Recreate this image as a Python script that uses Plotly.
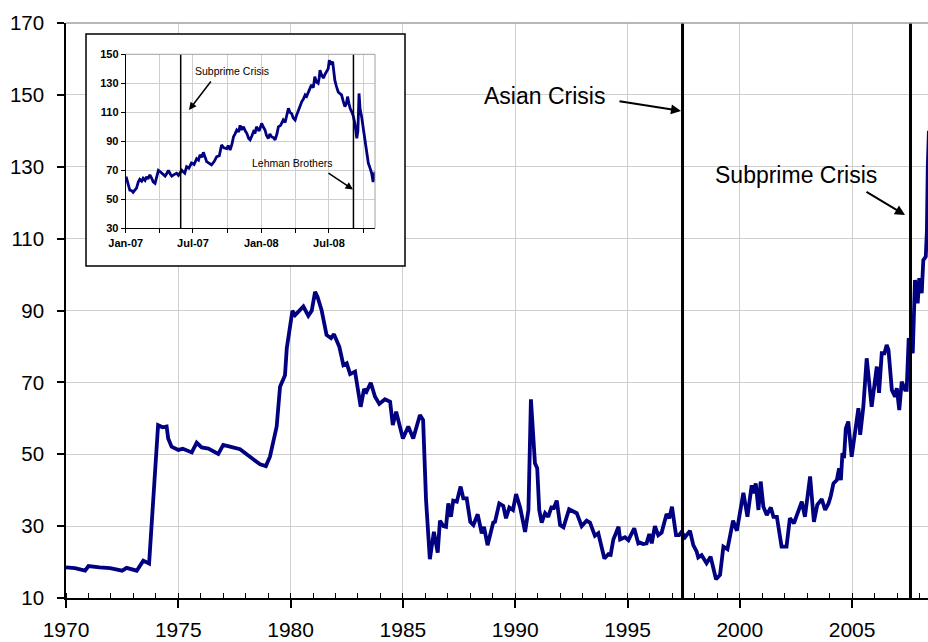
import plotly.graph_objects as go

# ---------------- data ----------------
main_years = [
    1970.00, 1970.40, 1970.85, 1971.00, 1971.50, 1971.96, 1972.50, 1972.70, 1973.15, 1973.44,
    1973.70, 1973.80, 1973.96, 1974.10, 1974.30, 1974.48, 1974.55, 1974.70, 1975.00, 1975.20,
    1975.60, 1975.82, 1976.04, 1976.34, 1976.78, 1977.00, 1977.30, 1977.75, 1978.19, 1978.64,
    1978.90, 1979.08, 1979.38, 1979.53, 1979.75, 1979.83, 1980.08, 1980.20, 1980.57, 1980.79,
    1980.94, 1981.09, 1981.20, 1981.38, 1981.60, 1981.80, 1981.93, 1982.17, 1982.35, 1982.50,
    1982.65, 1982.87, 1983.12, 1983.27, 1983.38, 1983.57, 1983.76, 1983.95, 1984.20, 1984.43,
    1984.55, 1984.70, 1985.00, 1985.24, 1985.46, 1985.76, 1985.90, 1986.03, 1986.20, 1986.38,
    1986.55, 1986.65, 1986.80, 1986.92, 1987.02, 1987.14, 1987.24, 1987.40, 1987.57, 1987.69,
    1987.84, 1988.00, 1988.14, 1988.33, 1988.51, 1988.61, 1988.77, 1989.02, 1989.10, 1989.29,
    1989.47, 1989.59, 1989.74, 1989.90, 1990.04, 1990.22, 1990.44, 1990.59, 1990.70, 1990.80,
    1990.88, 1990.98, 1991.07, 1991.18, 1991.33, 1991.47, 1991.63, 1991.70, 1991.85, 1992.00,
    1992.15, 1992.40, 1992.59, 1992.74, 1992.96, 1993.18, 1993.33, 1993.55, 1993.70, 1993.97,
    1994.15, 1994.25, 1994.37, 1994.60, 1994.67, 1994.89, 1995.04, 1995.30, 1995.48, 1995.55,
    1995.70, 1995.85, 1995.97, 1996.08, 1996.22, 1996.37, 1996.52, 1996.74, 1996.86, 1996.98,
    1997.16, 1997.30, 1997.41, 1997.56, 1997.78, 1997.93, 1998.08, 1998.15, 1998.30, 1998.52,
    1998.70, 1998.82, 1998.94, 1999.12, 1999.27, 1999.45, 1999.57, 1999.70, 1999.87, 1999.98,
    2000.16, 2000.34, 2000.53, 2000.60, 2000.71, 2000.83, 2000.93, 2001.05, 2001.20, 2001.38,
    2001.50, 2001.65, 2001.86, 2002.08, 2002.23, 2002.41, 2002.56, 2002.76, 2002.90, 2003.13,
    2003.30, 2003.45, 2003.65, 2003.80, 2003.95, 2004.05, 2004.17, 2004.32, 2004.42, 2004.50,
    2004.57, 2004.64, 2004.72, 2004.83, 2004.98, 2005.13, 2005.28, 2005.36, 2005.50, 2005.65,
    2005.77, 2005.87, 2006.10, 2006.20, 2006.32, 2006.44, 2006.54, 2006.62, 2006.77, 2006.91,
    2006.99, 2007.10, 2007.21, 2007.36, 2007.43, 2007.52, 2007.70, 2007.80, 2007.92, 2007.99,
    2008.10, 2008.17, 2008.28, 2008.33, 2008.37, 2008.42,
]
main_prices = [
    18.5, 18.3, 17.6, 18.9, 18.5, 18.3, 17.6, 18.4, 17.6, 20.4,
    19.6, 29.8, 41.9, 58.1, 57.5, 57.7, 54.4, 52.1, 51.2, 51.5,
    50.5, 53.2, 51.9, 51.6, 50.1, 52.6, 52.1, 51.4, 49.3, 47.2,
    46.7, 49.3, 57.7, 68.8, 72.0, 79.5, 89.9, 88.7, 91.1, 88.5,
    89.9, 95.2, 93.8, 90.1, 83.2, 82.3, 83.4, 79.9, 74.8, 75.3,
    72.3, 73.0, 63.2, 68.1, 67.4, 69.9, 66.0, 64.0, 65.3, 64.6,
    58.1, 61.8, 54.4, 57.7, 54.4, 60.9, 59.5, 37.3, 20.8, 28.4,
    22.6, 31.5, 30.0, 29.8, 36.3, 32.6, 37.1, 36.8, 41.0, 37.7,
    37.7, 31.2, 30.3, 33.3, 28.0, 29.8, 24.7, 31.0, 31.2, 36.3,
    35.6, 32.2, 35.2, 34.5, 38.9, 35.2, 28.4, 34.5, 65.3, 57.2,
    47.5, 46.1, 34.5, 31.0, 33.6, 32.6, 35.6, 34.7, 37.1, 30.3,
    29.7, 34.7, 34.0, 33.6, 30.0, 31.5, 31.0, 27.3, 28.0, 21.0,
    22.2, 22.0, 26.3, 29.8, 26.3, 26.9, 26.1, 29.4, 25.2, 25.4,
    25.0, 25.2, 27.8, 25.2, 30.0, 27.5, 28.2, 33.4, 32.2, 35.4,
    27.5, 27.5, 28.4, 26.9, 28.7, 24.7, 22.9, 21.3, 21.9, 19.7,
    21.5, 17.8, 15.2, 16.4, 24.3, 23.6, 26.9, 31.5, 28.7, 32.7,
    39.3, 32.6, 41.4, 39.1, 41.9, 34.5, 42.4, 35.4, 33.1, 35.2,
    32.6, 32.6, 24.3, 24.3, 32.2, 30.8, 33.1, 36.8, 32.6, 43.8,
    31.2, 35.9, 37.5, 34.5, 36.3, 38.4, 41.9, 42.8, 46.1, 42.8,
    50.3, 48.9, 57.2, 59.1, 49.3, 56.7, 62.8, 55.4, 63.2, 76.7,
    69.7, 63.2, 74.4, 67.1, 78.1, 78.1, 80.4, 79.0, 67.9, 66.0,
    68.4, 62.3, 70.2, 67.9, 67.9, 82.3, 78.1, 98.5, 92.0, 99.0,
    94.8, 104.0, 105.0, 112.0, 130.0, 140.0,
]

inset_dates = [
    "2007-01-02", "2007-01-05", "2007-01-08", "2007-01-12", "2007-01-17", "2007-01-21",
    "2007-01-26", "2007-01-30", "2007-02-04", "2007-02-08", "2007-02-13", "2007-02-17",
    "2007-02-22", "2007-02-26", "2007-03-02", "2007-03-07", "2007-03-12", "2007-03-16",
    "2007-03-21", "2007-03-26", "2007-03-30", "2007-04-04", "2007-04-08", "2007-04-13",
    "2007-04-17", "2007-04-22", "2007-04-26", "2007-05-01", "2007-05-05", "2007-05-11",
    "2007-05-18", "2007-05-23", "2007-05-27", "2007-06-01", "2007-06-05", "2007-06-09",
    "2007-06-14", "2007-06-20", "2007-06-27", "2007-07-04", "2007-07-11", "2007-07-16",
    "2007-07-20", "2007-07-25", "2007-07-29", "2007-08-03", "2007-08-07", "2007-08-13",
    "2007-08-20", "2007-08-27", "2007-09-03", "2007-09-10", "2007-09-16", "2007-09-22",
    "2007-09-30", "2007-10-04", "2007-10-09", "2007-10-14", "2007-10-18", "2007-10-22",
    "2007-10-27", "2007-11-01", "2007-11-05", "2007-11-09", "2007-11-14", "2007-11-19",
    "2007-11-23", "2007-11-28", "2007-12-02", "2007-12-07", "2007-12-11", "2007-12-15",
    "2007-12-19", "2007-12-26", "2008-01-02", "2008-01-06", "2008-01-11", "2008-01-15",
    "2008-01-20", "2008-01-24", "2008-01-29", "2008-02-03", "2008-02-07", "2008-02-12",
    "2008-02-16", "2008-02-22", "2008-02-29", "2008-03-05", "2008-03-10", "2008-03-14",
    "2008-03-18", "2008-03-23", "2008-03-27", "2008-04-01", "2008-04-05", "2008-04-10",
    "2008-04-14", "2008-04-19", "2008-04-23", "2008-04-28", "2008-05-02", "2008-05-07",
    "2008-05-11", "2008-05-15", "2008-05-20", "2008-05-24", "2008-05-28", "2008-06-02",
    "2008-06-05", "2008-06-07", "2008-06-11", "2008-06-16", "2008-06-20", "2008-06-25",
    "2008-06-29", "2008-07-02", "2008-07-06", "2008-07-11", "2008-07-14", "2008-07-17",
    "2008-07-21", "2008-07-26", "2008-07-30", "2008-08-04", "2008-08-08", "2008-08-13",
    "2008-08-17", "2008-08-20", "2008-08-24", "2008-08-27", "2008-09-01", "2008-09-05",
    "2008-09-09", "2008-09-14", "2008-09-17", "2008-09-20", "2008-09-23", "2008-09-27",
    "2008-10-02", "2008-10-06", "2008-10-10", "2008-10-15", "2008-10-19", "2008-10-24",
    "2008-10-28", "2008-11-02",
]
inset_prices = [
    65.6, 62.5, 61.0, 56.4, 56.0, 54.8,
    56.5, 57.6, 62.0, 63.8, 62.5, 64.5,
    63.0, 65.6, 64.0, 66.8, 64.5, 62.0,
    61.0, 66.0, 70.0, 69.0, 68.0, 67.0,
    66.0, 68.0, 70.0, 67.5, 66.0, 67.0,
    68.0, 66.5, 68.0, 70.0, 69.0, 68.0,
    72.5, 71.5, 75.0, 74.0, 78.0, 77.0,
    80.6, 79.0, 82.4, 78.5, 76.0, 75.0,
    73.7, 76.0, 79.4, 80.0, 87.5, 85.5,
    85.0, 87.0, 84.0, 88.0, 93.0, 95.0,
    97.8, 96.5, 101.0, 98.0, 100.0, 97.0,
    95.5, 92.0, 91.0, 94.0, 96.7, 95.5,
    100.0, 97.0, 102.4, 100.0, 97.8, 94.0,
    92.0, 95.0, 93.0, 92.5, 91.0, 95.0,
    100.0, 101.0, 104.7, 103.0, 108.0, 112.8,
    110.0, 109.0, 106.0, 104.7, 108.0, 111.6,
    114.0, 117.4, 119.0, 122.0, 121.0, 124.0,
    126.0, 128.9, 127.0, 134.6, 131.0, 130.0,
    134.0, 139.0, 136.0, 133.5, 136.0, 138.0,
    140.0, 146.0, 143.0, 145.0, 138.0, 132.0,
    128.0, 124.0, 123.0, 122.0, 118.0, 114.0,
    116.0, 120.8, 116.0, 112.8, 110.0, 107.0,
    102.0, 92.0, 97.0, 123.0, 112.0, 107.0,
    98.0, 91.0, 85.0, 75.0, 72.0, 68.0,
    62.0, 69.0,
]

main_y_ticks = [10, 30, 50, 70, 90, 110, 130, 150, 170]
main_x_ticks = [1970, 1975, 1980, 1985, 1990, 1995, 2000, 2005]
inset_y_ticks = [30, 50, 70, 90, 110, 130, 150]
inset_x_grid = ["2007-01-01", "2007-04-01", "2007-07-01", "2007-10-01",
                "2008-01-01", "2008-04-01", "2008-07-01", "2008-10-01"]
inset_x_labels = ["Jan-07", "", "Jul-07", "", "Jan-08", "", "Jul-08", ""]

main_events = {"Asian Crisis": 1997.45, "Subprime Crisis": 2007.60}
inset_events = {"Subprime Crisis": "2007-05-29", "Lehman Brothers": "2008-09-05"}

# ---------------- layout helpers ----------------
W, H = 928, 642
L, R, T, B = 66, 0, 23, 44
PW, PH = W - L - R, H - T - B


def pxx(x):
    return (x - L) / PW


def pxy(y):
    return (H - B - y) / PH


FONT = "Liberation Sans, Arial, sans-serif"
NAVY = "#000080"
GRID = "#cfcfcf"

fig = go.Figure()

fig.add_trace(go.Scatter(
    x=main_years, y=main_prices, mode="lines",
    line=dict(color=NAVY, width=3.8), showlegend=False, hoverinfo="skip",
    xaxis="x", yaxis="y"))

# empty subplot used as the opaque inset frame
fig.add_trace(go.Scatter(x=[], y=[], mode="lines", showlegend=False,
                         hoverinfo="skip", xaxis="x2", yaxis="y2"))

fig.add_trace(go.Scatter(
    x=inset_dates, y=inset_prices, mode="lines",
    line=dict(color=NAVY, width=2.8), showlegend=False, hoverinfo="skip",
    xaxis="x3", yaxis="y3"))

shapes = []
for name, yr in main_events.items():
    shapes.append(dict(type="line", xref="x", yref="paper", x0=yr, x1=yr, y0=0, y1=1,
                       line=dict(color="black", width=3), layer="above"))
for name, d in inset_events.items():
    shapes.append(dict(type="line", xref="x3", yref="y3 domain", x0=d, x1=d, y0=0, y1=1,
                       line=dict(color="black", width=1.5), layer="above"))
# top border of main plot
shapes.append(dict(type="line", xref="paper", yref="paper", x0=0, x1=1, y0=1, y1=1,
                   line=dict(color="#a0a0a0", width=1.5), layer="above"))
# inset frame
shapes.append(dict(type="rect", xref="paper", yref="paper",
                   x0=pxx(86), x1=pxx(405), y0=pxy(266), y1=pxy(34),
                   line=dict(color="black", width=1.5), fillcolor="rgba(0,0,0,0)", layer="above"))
# inset plot area top/right border (gray)
shapes.append(dict(type="line", xref="x3 domain", yref="y3 domain", x0=0, x1=1, y0=1, y1=1,
                   line=dict(color="#a0a0a0", width=1), layer="above"))
shapes.append(dict(type="line", xref="x3 domain", yref="y3 domain", x0=1, x1=1, y0=0, y1=1,
                   line=dict(color="#a0a0a0", width=1), layer="above"))


def label(text, x, y, size):
    return dict(text=text, xref="paper", yref="paper", x=pxx(x), y=pxy(y),
                xanchor="center", yanchor="middle", showarrow=False,
                font=dict(family=FONT, size=size, color="black"))


def arrow(head_x, head_y, tail_x, tail_y, width):
    return dict(text="", xref="paper", yref="paper", x=pxx(head_x), y=pxy(head_y),
                ax=tail_x - head_x, ay=tail_y - head_y, axref="pixel", ayref="pixel",
                showarrow=True, arrowhead=2, arrowsize=1, arrowwidth=width,
                arrowcolor="black", standoff=0)


annotations = [
    label("Asian Crisis", 544, 96, 23),
    arrow(681, 111, 618, 101, 2),
    label("Subprime Crisis", 796, 175, 23),
    arrow(905, 215, 865, 191, 2),
    label("Subprime Crisis", 232, 71, 10.5),
    arrow(189, 110, 212, 80, 1.5),
    label("Lehman Brothers", 292, 163, 10.5),
    arrow(353, 189.5, 327, 172, 1.5),
]

fig.update_layout(
    width=W, height=H,
    margin=dict(l=L, r=R, t=T, b=B, pad=0, autoexpand=False),
    paper_bgcolor="white", plot_bgcolor="white",
    font=dict(family=FONT, color="black"),
    showlegend=False,
    shapes=shapes, annotations=annotations,
    xaxis=dict(
        domain=[0, 1], anchor="y", range=[1970, 1970 + PW / 22.46], automargin=False,
        tickmode="array", tickvals=main_x_ticks, ticktext=[str(v) for v in main_x_ticks],
        ticks="outside", ticklen=8, tickwidth=1.5, tickcolor="black",
        ticklabelstandoff=4,
        minor=dict(dtick=1, tick0=1970, ticks="inside", ticklen=5, tickwidth=1,
                   tickcolor="black", showgrid=False),
        showline=True, linecolor="black", linewidth=1.5,
        showgrid=True, gridcolor=GRID, gridwidth=1, zeroline=False,
        tickfont=dict(family=FONT, size=21, color="black"),
    ),
    yaxis=dict(
        domain=[0, 1], anchor="x", range=[10, 170], automargin=False,
        tickmode="array", tickvals=main_y_ticks,
        ticks="outside", ticklen=7, tickwidth=1.5, tickcolor="black",
        ticklabelstandoff=9,
        showline=True, linecolor="black", linewidth=1.5,
        showgrid=True, gridcolor=GRID, gridwidth=1, zeroline=False,
        tickfont=dict(family=FONT, size=20.5, color="black"),
    ),
    xaxis2=dict(domain=[pxx(86), pxx(405)], anchor="y2", range=[0, 1],
                visible=False, fixedrange=True, automargin=False),
    yaxis2=dict(domain=[pxy(266), pxy(34)], anchor="x2", range=[0, 1],
                visible=False, fixedrange=True, automargin=False),
    xaxis3=dict(
        domain=[pxx(125.7), pxx(375)], anchor="y3", type="date", automargin=False,
        range=["2007-01-01", "2008-11-02"],
        tickmode="array", tickvals=inset_x_grid, ticktext=inset_x_labels,
        ticks="outside", ticklen=4, tickwidth=1, tickcolor="black",
        showline=True, linecolor="black", linewidth=1,
        showgrid=True, gridcolor=GRID, gridwidth=1, zeroline=False,
        tickfont=dict(family=FONT, size=11, color="black", weight="bold"),
    ),
    yaxis3=dict(
        domain=[pxy(228.3), pxy(54.3)], anchor="x3", range=[30, 150], automargin=False,
        tickmode="array", tickvals=inset_y_ticks,
        ticks="outside", ticklen=4, tickwidth=1, tickcolor="black",
        showline=True, linecolor="black", linewidth=1,
        showgrid=True, gridcolor=GRID, gridwidth=1, zeroline=False,
        tickfont=dict(family=FONT, size=11, color="black", weight="bold"),
    ),
)

fig.write_html(
    "out.html",
    config={"displayModeBar": False},
    post_script="document.body.style.margin='0';document.body.style.padding='0';"
                "document.body.style.overflow='hidden';",
)
